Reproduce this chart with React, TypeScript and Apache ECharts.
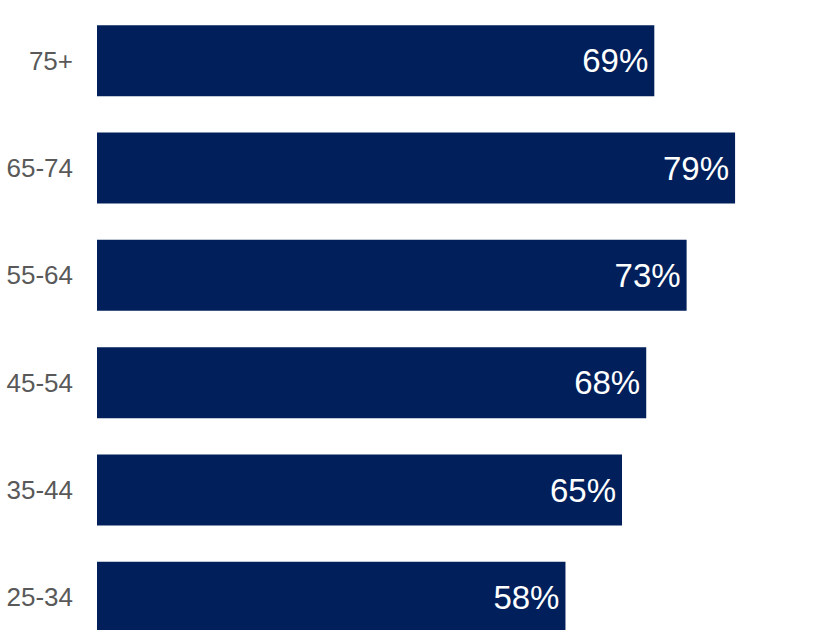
import React, { useEffect, useRef } from "react";
import * as echarts from "echarts";

const categories = ["25-34", "35-44", "45-54", "55-64", "65-74", "75+"];
const values = [58, 65, 68, 73, 79, 69];

export default function App() {
  const ref = useRef<HTMLDivElement>(null);
  useEffect(() => {
    if (!ref.current) return;
    const chart = echarts.init(ref.current, null, { renderer: "svg" });
    chart.setOption({
      animation: false,
      grid: { left: 97, top: 7, width: 735, height: 644, containLabel: false },
      xAxis: { type: "value", min: 0, max: 91, show: false },
      yAxis: {
        type: "category",
        data: categories,
        axisLine: { show: false },
        axisTick: { show: false },
        axisLabel: {
          color: "#595959",
          fontSize: 26,
          fontFamily: "Liberation Sans, Arial, sans-serif",
          margin: 24,
        },
      },
      series: [
        {
          type: "bar",
          data: values,
          barWidth: 71,
          itemStyle: { color: "#001F5B" },
          label: {
            show: true,
            position: "insideRight",
            distance: 6,
            formatter: "{c}%",
            color: "#ffffff",
            fontSize: 33,
            fontFamily: "Liberation Sans, Arial, sans-serif",
          },
        },
      ],
    });
    return () => chart.dispose();
  }, []);
  return (
    <div style={{ position: "fixed", left: 0, top: 0, width: 832, height: 630, overflow: "hidden", background: "#fff" }}>
      <div ref={ref} style={{ width: 832, height: 652 }} />
    </div>
  );
}
